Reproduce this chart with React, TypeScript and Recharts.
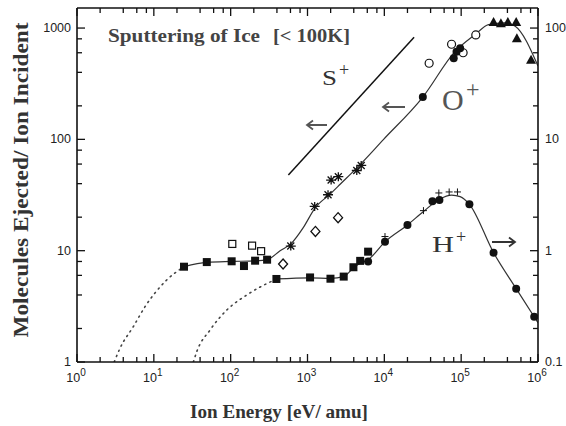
import React from 'react';
import { ComposedChart, Line, Scatter, XAxis, YAxis } from 'recharts';

// energy [eV/amu] and yield [molecules / ion]
const xMajor = [1, 10, 100, 1000, 10000, 100000, 1000000];
const yMajor = [1, 10, 100, 1000];
const yMajorRight = [0.1, 1, 10, 100];
const minorSteps = [2, 4, 6, 8];

// O+ (left scale)
const oSquareE = [24.7, 48.9, 103, 149, 208, 298];
const oSquareY = [7.18, 7.9, 8.03, 7.28, 8.13, 8.3];
const openSquareE = [105, 190, 249];
const openSquareY = [11.5, 11.1, 9.9];
const diamondE = [481, 1268, 2500];
const diamondY = [7.6, 14.9, 19.8];
const starE = [606, 1240, 1850, 2030, 2520, 4380, 5000];
const starY = [11.0, 25.0, 31.8, 43.1, 46.2, 52.5, 58.3];
const oDotE = [31700, 80000, 87000, 97000];
const oDotY = [240, 535, 614, 660];
const oRingE = [38300, 75000, 106000, 155000];
const oRingY = [483, 715, 600, 867];
const triE = [264000, 329000, 405000, 520000, 531000, 812000];
const triY = [1135, 1105, 1135, 1135, 810, 518];
const oCurveE = [24.7, 48.9, 103, 208, 300, 440, 606, 885, 1245, 1990, 2660, 4560, 9650, 31700, 83600, 152000, 227000, 374000, 505000, 1000000];
const oCurveY = [7.2, 7.85, 8.0, 8.1, 8.3, 10.0, 11.5, 16.2, 24.0, 32.5, 39.5, 56.9, 99, 240, 617, 874, 1072, 1112, 1038, 455];
const oDottedE = [3.05, 3.63, 5.41, 7.68, 14.7, 24.7];
const oDottedY = [1, 1.33, 2.08, 3.14, 5.45, 7.18];

// S+ fit line
const sLineE = [564, 24400];
const sLineY = [47.9, 827];

// H+ (drawn on left scale, read on right scale = left / 10)
const hSquareE = [394, 1080, 1990, 2960, 3960, 4850, 6150];
const hSquareY = [5.57, 5.75, 5.6, 5.85, 7.1, 8.1, 9.8];
const hDotE = [6150, 10200, 20000, 42300, 52100, 128000, 264000, 520000, 893000];
const hDotY = [8.0, 12.0, 17.0, 27.8, 28.6, 26.1, 9.6, 4.56, 2.55];
const plusE = [10200, 32300, 51200, 69800, 89500];
const plusY = [13.4, 22.9, 33.0, 33.7, 33.7];
const hCurveE = [394, 1080, 1990, 2960, 3960, 4850, 6150, 10200, 20000, 32300, 52000, 75000, 97000, 128000, 264000, 520000, 1000000];
const hCurveY = [5.57, 5.7, 5.65, 5.85, 7.0, 7.7, 8.3, 12.0, 17.0, 22.5, 29.0, 31.6, 30.6, 26.1, 9.6, 4.56, 2.25];
const hDottedE = [32.7, 36.2, 54, 89, 162, 394];
const hDottedY = [1, 1.24, 1.94, 2.93, 4.0, 5.57];

const zip = (xs: number[], ys: number[]) => xs.map((x, i) => ({ x, y: ys[i] }));
const withMinor = (majors: number[]) =>
  majors.flatMap((m, i) => (i < majors.length - 1 ? [m, ...minorSteps.map((s) => m * s)] : [m]));

const INK = '#111';
const W = 566;
const H = 426;
// axes are 1px wide, so the plot box is 77..538 x 8..362
const M = { top: 7, right: 27, bottom: 63, left: 76 };

const isDecade = (v: number) => Math.abs(Math.log10(v) - Math.round(Math.log10(v))) < 1e-6;
const sans = 'Liberation Sans, Arial, sans-serif';

const BottomTick = (p: any) => {
  const v = p.payload.value;
  const major = isDecade(v);
  return (
    <g>
      <line x1={p.x} x2={p.x} y1={p.y} y2={p.y - (major ? 8 : 5)} stroke={INK} strokeWidth={1.3} />
      {major && (
        <text x={p.x - 1} y={p.y + 20} textAnchor="middle" fontFamily={sans} fontSize={12.5} fill="#222">
          10<tspan dy={-6} fontSize={10}>{Math.round(Math.log10(v))}</tspan>
        </text>
      )}
    </g>
  );
};

const TopTick = (p: any) => {
  const major = isDecade(p.payload.value);
  return <line x1={p.x} x2={p.x} y1={p.y} y2={p.y + (major ? 8 : 5)} stroke={INK} strokeWidth={1.3} />;
};

const LeftTick = (p: any) => {
  const v = p.payload.value;
  const major = isDecade(v);
  return (
    <g>
      <line x1={p.x} x2={p.x + (major ? 8 : 5)} y1={p.y} y2={p.y} stroke={INK} strokeWidth={1.3} />
      {major && (
        <text x={p.x - 6} y={p.y + 4} textAnchor="end" fontFamily={sans} fontSize={12.5} fill="#222">
          {v}
        </text>
      )}
    </g>
  );
};

const RightTick = (p: any) => {
  const v = p.payload.value;
  const major = isDecade(v);
  return (
    <g>
      <line x1={p.x} x2={p.x - (major ? 8 : 5)} y1={p.y} y2={p.y} stroke={INK} strokeWidth={1.3} />
      {major && (
        <text x={p.x + 7} y={p.y + 4} textAnchor="start" fontFamily={sans} fontSize={12.5} fill="#222">
          {v}
        </text>
      )}
    </g>
  );
};

const filledSquare = (p: any) => <rect x={p.cx - 4} y={p.cy - 4} width={8} height={8} fill={INK} />;
const openSquare = (p: any) => <rect x={p.cx - 3.5} y={p.cy - 3.5} width={7} height={7} fill="#fff" stroke={INK} strokeWidth={1.2} />;
const filledCircle = (p: any) => <circle cx={p.cx} cy={p.cy} r={4} fill={INK} />;
const openCircle = (p: any) => <circle cx={p.cx} cy={p.cy} r={4} fill="#fff" stroke={INK} strokeWidth={1.2} />;
const diamond = (p: any) => (
  <path d={`M${p.cx},${p.cy - 5}L${p.cx + 4.5},${p.cy}L${p.cx},${p.cy + 5}L${p.cx - 4.5},${p.cy}Z`} fill="#fff" stroke={INK} strokeWidth={1.3} />
);
const triangle = (p: any) => (
  <path d={`M${p.cx},${p.cy - 5}L${p.cx + 5},${p.cy + 4}L${p.cx - 5},${p.cy + 4}Z`} fill={INK} />
);
const star = (p: any) => (
  <path
    d={`M${p.cx - 5},${p.cy}L${p.cx + 5},${p.cy}M${p.cx - 3.5},${p.cy - 3.5}L${p.cx + 3.5},${p.cy + 3.5}M${p.cx - 3.5},${p.cy + 3.5}L${p.cx + 3.5},${p.cy - 3.5}M${p.cx},${p.cy - 4.5}L${p.cx},${p.cy + 4.5}`}
    stroke={INK}
    strokeWidth={1.3}
  />
);
const plus = (p: any) => (
  <path d={`M${p.cx - 3.5},${p.cy}L${p.cx + 3.5},${p.cy}M${p.cx},${p.cy - 3.5}L${p.cx},${p.cy + 3.5}`} stroke={INK} strokeWidth={1} />
);

const serif = 'Liberation Serif, Times New Roman, serif';
const logAxis = { type: 'number' as const, scale: 'log' as const, allowDataOverflow: true, interval: 0, tickSize: 0, tickMargin: 0, axisLine: { stroke: INK, strokeWidth: 1.6 } };

const App: React.FC = () => (
  <div style={{ position: 'absolute', left: 0, top: 0, width: W, height: H, background: '#fff' }}>
    <ComposedChart width={W} height={H} margin={M}>
      <XAxis {...logAxis} xAxisId={0} dataKey="x" domain={[1, 1000000]} ticks={withMinor(xMajor)} height={1} tick={BottomTick} />
      <XAxis {...logAxis} xAxisId="t" orientation="top" dataKey="x" domain={[1, 1000000]} ticks={withMinor(xMajor)} height={1} tick={TopTick} />
      <YAxis {...logAxis} yAxisId={0} dataKey="y" domain={[1, 1514]} ticks={withMinor(yMajor)} width={1} tick={LeftTick} />
      <YAxis {...logAxis} yAxisId="r" orientation="right" domain={[0.1, 151.4]} ticks={withMinor(yMajorRight)} width={1} tick={RightTick} />

      <Line data={zip(oDottedE, oDottedY)} dataKey="y" type="monotone" stroke="#444" strokeWidth={1.6} strokeDasharray="1.2 4.5" strokeLinecap="round" dot={false} isAnimationActive={false} />
      <Line data={zip(hDottedE, hDottedY)} dataKey="y" type="monotone" stroke="#444" strokeWidth={1.6} strokeDasharray="1.2 4.5" strokeLinecap="round" dot={false} isAnimationActive={false} />
      <Line data={zip(oCurveE, oCurveY)} dataKey="y" type="monotone" stroke="#333" strokeWidth={1.2} dot={false} isAnimationActive={false} />
      <Line data={zip(hCurveE, hCurveY)} dataKey="y" type="monotone" stroke="#333" strokeWidth={1.2} dot={false} isAnimationActive={false} />
      <Line data={zip(sLineE, sLineY)} dataKey="y" type="linear" stroke={INK} strokeWidth={1.5} dot={false} isAnimationActive={false} />

      <Scatter data={zip(oSquareE, oSquareY)} shape={filledSquare} isAnimationActive={false} />
      <Scatter data={zip(openSquareE, openSquareY)} shape={openSquare} isAnimationActive={false} />
      <Scatter data={zip(diamondE, diamondY)} shape={diamond} isAnimationActive={false} />
      <Scatter data={zip(starE, starY)} shape={star} isAnimationActive={false} />
      <Scatter data={zip(oRingE, oRingY)} shape={openCircle} isAnimationActive={false} />
      <Scatter data={zip(oDotE, oDotY)} shape={filledCircle} isAnimationActive={false} />
      <Scatter data={zip(triE, triY)} shape={triangle} isAnimationActive={false} />
      <Scatter data={zip(hSquareE, hSquareY)} shape={filledSquare} isAnimationActive={false} />
      <Scatter data={zip(hDotE, hDotY)} shape={filledCircle} isAnimationActive={false} />
      <Scatter data={zip(plusE, plusY)} shape={plus} isAnimationActive={false} />
    </ComposedChart>

    <svg width={W} height={H} style={{ position: 'absolute', left: 0, top: 0, pointerEvents: 'none' }}>
      <text x={108} y={42} fontFamily={serif} fontWeight="bold" fontSize={19} fill="#444" textLength={152} lengthAdjust="spacingAndGlyphs">
        Sputtering of Ice
      </text>
      <text x={273} y={42} fontFamily={serif} fontWeight="bold" fontSize={19} fill="#444" textLength={77} lengthAdjust="spacingAndGlyphs">
        [&lt; 100K]
      </text>

      <text x={322} y={85} fontFamily={serif} fontSize={21} fill="#333" textLength={15} lengthAdjust="spacingAndGlyphs">S</text>
      <text x={339} y={76} fontFamily={serif} fontSize={18} fill="#333">+</text>
      <text x={442} y={110} fontFamily={serif} fontSize={30} fill="#555">O</text>
      <text x={466} y={97} fontFamily={serif} fontSize={24} fill="#555">+</text>
      <text x={432} y={252} fontFamily={serif} fontSize={23} fill="#333" textLength={22} lengthAdjust="spacingAndGlyphs">H</text>
      <text x={456} y={243} fontFamily={serif} fontSize={18} fill="#333">+</text>

      <path d="M327,125 L307,125 M313,120.5 L307,125 L313,129.5" stroke="#555" strokeWidth={1.8} fill="none" />
      <path d="M405,107 L383,107 M389,102.5 L383,107 L389,111.5" stroke="#555" strokeWidth={1.8} fill="none" />
      <path d="M492,242 L515,242 M509,237.5 L515,242 L509,246.5" stroke="#333" strokeWidth={1.8} fill="none" />

      <text
        transform="translate(28,180) rotate(-90)"
        textAnchor="middle"
        fontFamily={serif}
        fontWeight="bold"
        fontSize={21}
        fill="#333"
        textLength={315}
        lengthAdjust="spacingAndGlyphs"
      >
        Molecules Ejected/ Ion Incident
      </text>
      <text x={279} y={418} textAnchor="middle" fontFamily={serif} fontWeight="bold" fontSize={19} fill="#333" textLength={178} lengthAdjust="spacingAndGlyphs">
        Ion Energy [eV/ amu]
      </text>
    </svg>
  </div>
);

export default App;
